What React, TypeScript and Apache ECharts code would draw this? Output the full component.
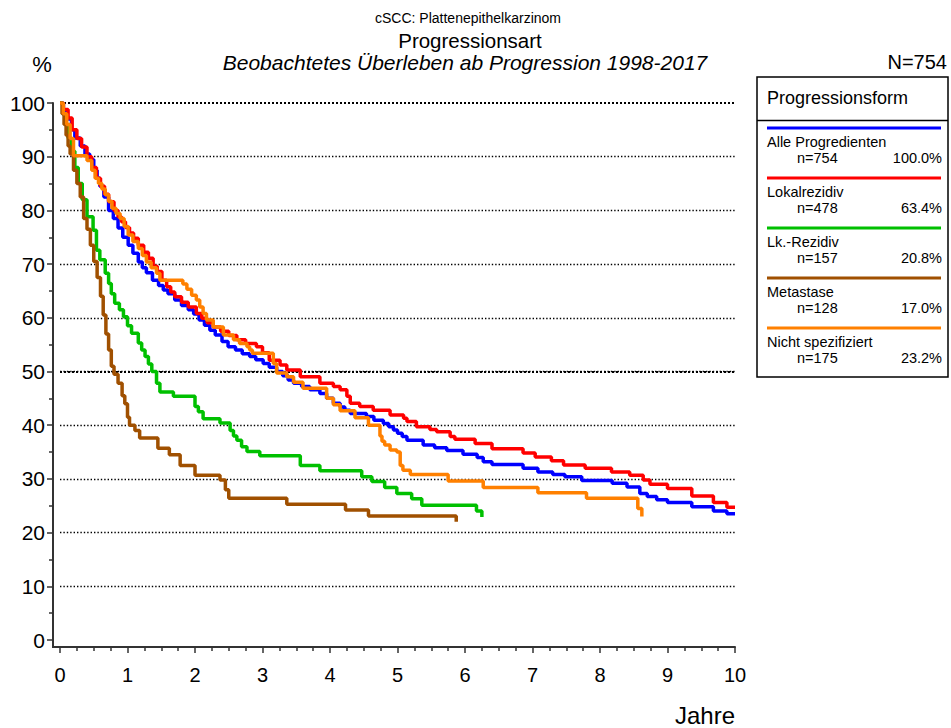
import React, { useEffect, useRef } from "react";
import * as echarts from "echarts";

// ---- Data (time in years, survival in %) ----
const alleProgredienten: [number, number][] = [
  [0, 100], [0.05, 98.5], [0.1, 97], [0.17, 95], [0.22, 93.5], [0.3, 92], [0.37, 90.5], [0.44, 89.5],
  [0.5, 87.5], [0.55, 86], [0.59, 84.5], [0.65, 82.5], [0.72, 80], [0.79, 78.5], [0.86, 76.7], [0.93, 75],
  [1.01, 73.5], [1.08, 72], [1.16, 70.4], [1.22, 69.3], [1.28, 68.4], [1.37, 67], [1.46, 66], [1.53, 65.2],
  [1.6, 64.5], [1.7, 63.3], [1.8, 62.3], [1.9, 61.5], [1.98, 60.7], [2.06, 59.6], [2.14, 58.6], [2.22, 57.7],
  [2.3, 56.8], [2.4, 55.6], [2.49, 54.6], [2.6, 54], [2.7, 53.3], [2.81, 52.8], [2.9, 52.2], [3.01, 51.5],
  [3.1, 50.8], [3.21, 50], [3.3, 49.2], [3.38, 48.4], [3.46, 47.8], [3.58, 47.2], [3.7, 46.6], [3.85, 45.9],
  [3.95, 45], [4.05, 44.1], [4.15, 43.4], [4.22, 42.8], [4.3, 42.2], [4.54, 41.6], [4.65, 40.9], [4.79, 40.3],
  [4.87, 39.7], [4.94, 39.1], [5.0, 38.5], [5.07, 37.9], [5.14, 37.2], [5.38, 36.3], [5.55, 35.8], [5.73, 35.3],
  [5.97, 34.6], [6.18, 34], [6.27, 33.2], [6.4, 32.7], [6.86, 32], [7.08, 31.3], [7.3, 30.8], [7.48, 30.4],
  [7.73, 29.7], [8.18, 29.2], [8.4, 28.5], [8.59, 27.3], [8.7, 26.7], [8.84, 26.1], [9.0, 25.6], [9.36, 24.8],
  [9.68, 24], [9.88, 23.5], [10.0, 23.5],
];

const lokalrezidiv: [number, number][] = [
  [0, 100], [0.05, 98.8], [0.12, 97.2], [0.18, 95], [0.25, 93.4], [0.32, 91.8], [0.4, 90], [0.47, 88],
  [0.54, 86], [0.6, 84.5], [0.66, 83], [0.72, 81.6], [0.8, 80], [0.86, 78.8], [0.91, 77.9], [0.97, 76.8],
  [1.03, 75.8], [1.09, 74.8], [1.16, 73.5], [1.24, 72.2], [1.31, 71.1], [1.38, 69.6], [1.44, 68.6], [1.51, 67],
  [1.58, 65.8], [1.64, 64.8], [1.7, 63.9], [1.8, 62.9], [1.9, 62], [2.02, 60.8], [2.1, 59.9], [2.18, 59.1],
  [2.27, 58.3], [2.38, 57.5], [2.5, 56.7], [2.62, 55.9], [2.75, 55.2], [2.91, 54.6], [3.0, 53.5], [3.1, 52.1],
  [3.26, 51.2], [3.36, 50.3], [3.56, 49], [3.85, 47.8], [4.05, 47.2], [4.15, 46.6], [4.25, 45.4], [4.3, 44.1],
  [4.44, 43.5], [4.64, 42.8], [4.89, 41.9], [5.09, 41.3], [5.14, 40.7], [5.28, 39.7], [5.48, 39.2], [5.58, 38.8],
  [5.78, 37.9], [5.85, 37.4], [6.15, 36.6], [6.4, 35.6], [6.86, 34.8], [7.04, 34.1], [7.28, 33.4], [7.46, 32.6],
  [7.78, 32], [8.17, 31.3], [8.44, 30.7], [8.64, 29.8], [8.74, 29], [9.0, 28.2], [9.36, 26.8], [9.68, 25.6],
  [9.88, 24.7], [10.0, 24.7],
];

const lkRezidiv: [number, number][] = [
  [0, 100], [0.04, 98], [0.08, 96], [0.12, 93.5], [0.17, 91], [0.22, 88], [0.27, 85], [0.33, 82],
  [0.4, 78.8], [0.49, 76.3], [0.54, 72.6], [0.59, 70.8], [0.67, 68.3], [0.72, 66.4], [0.76, 64.5], [0.81, 62.7],
  [0.88, 61.5], [0.94, 60.2], [1.0, 58.5], [1.06, 57.1], [1.16, 55.3], [1.21, 54], [1.26, 52.8], [1.31, 51.4],
  [1.36, 50], [1.43, 47.8], [1.48, 46.2], [1.68, 45.4], [2.0, 43.5], [2.05, 42.5], [2.12, 41.2], [2.37, 40.4],
  [2.52, 39], [2.57, 38], [2.62, 37.2], [2.69, 36], [2.77, 35.1], [2.96, 34.3], [3.56, 32.5], [3.85, 31.5],
  [4.47, 30.4], [4.62, 29.5], [4.81, 28.4], [4.99, 27.3], [5.21, 26.3], [5.36, 25.1], [6.17, 24], [6.25, 22.9],
];

const metastase: [number, number][] = [
  [0, 100], [0.03, 98], [0.06, 96], [0.09, 94], [0.12, 92], [0.15, 90.5], [0.2, 87.5], [0.25, 85],
  [0.3, 82.5], [0.35, 78.5], [0.4, 76.5], [0.45, 73.5], [0.5, 70.5], [0.55, 67.5], [0.6, 64], [0.64, 60.5],
  [0.68, 57], [0.72, 54], [0.76, 51], [0.8, 49.5], [0.86, 47.8], [0.92, 45.5], [0.96, 44], [1.0, 41.5],
  [1.03, 40], [1.11, 39], [1.18, 37.6], [1.45, 35.7], [1.62, 34.5], [1.78, 32.5], [2.0, 30.7], [2.37, 29.8],
  [2.45, 28], [2.5, 26.4], [3.36, 25.3], [4.23, 24.2], [4.57, 23.1], [5.87, 22],
];

const nichtSpezifiziert: [number, number][] = [
  [0, 100], [0.05, 98], [0.1, 96], [0.15, 93.4], [0.2, 90.2], [0.4, 89.3], [0.47, 87.5], [0.52, 86],
  [0.57, 85], [0.62, 84], [0.67, 82.9], [0.72, 81.7], [0.77, 80.4], [0.83, 79.4], [0.89, 78.5], [0.95, 77],
  [1.01, 75.4], [1.08, 74.2], [1.16, 72.9], [1.22, 71.6], [1.28, 70.4], [1.35, 69.3], [1.43, 68.3], [1.48, 67],
  [1.82, 66.3], [1.88, 65.3], [1.95, 64.2], [2.02, 63.3], [2.07, 62], [2.12, 60.8], [2.17, 59.6], [2.27, 58.3],
  [2.42, 56.8], [2.57, 55.9], [2.66, 55.2], [2.77, 54.6], [2.81, 54], [2.85, 53.4], [3.16, 51.5], [3.21, 49.7],
  [3.36, 49], [3.46, 48], [3.6, 46.9], [3.95, 45], [4.05, 43.8], [4.15, 42.7], [4.37, 41.4], [4.57, 40],
  [4.74, 38], [4.77, 37], [4.81, 36.3], [4.89, 35.4], [4.99, 35], [5.04, 32.5], [5.08, 31.6], [5.19, 30.8],
  [5.75, 29.6], [6.27, 28.4], [7.08, 27.4], [7.8, 26.4], [8.56, 24.5], [8.62, 23],
];

const seriesNames = ["Alle Progredienten", "Lokalrezidiv", "Lk.-Rezidiv", "Metastase", "Nicht spezifiziert"];
const seriesCounts = ["n=754", "n=478", "n=157", "n=128", "n=175"];
const seriesShares = ["100.0%", "63.4%", "20.8%", "17.0%", "23.2%"];
const seriesColors = ["#0000ff", "#ff0000", "#00c000", "#a05000", "#ff8000"];
const seriesData = [alleProgredienten, lokalrezidiv, lkRezidiv, metastase, nichtSpezifiziert];

const titleLines = ["cSCC: Plattenepithelkarzinom", "Progressionsart", "Beobachtetes Überleben ab Progression 1998-2017"];
const totalLabel = "N=754";
const legendTitle = "Progressionsform";

const FONT = '"Liberation Sans", Arial, sans-serif';

export default function App() {
  const ref = useRef<HTMLDivElement>(null);

  useEffect(() => {
    if (!ref.current) return;
    const chart = echarts.init(ref.current, undefined, { renderer: "svg" });

    const txt = (x: number, y: number, text: string, size: number, align = "left", extra: any = {}) => ({
      type: "text",
      x,
      y,
      silent: true,
      style: {
        text,
        fill: "#000",
        font: `${extra.italic ? "italic " : ""}${size}px ${FONT}`,
        textAlign: align,
        align,
        textVerticalAlign: "middle",
        verticalAlign: "middle",
      },
    });

    const graphics: any[] = [
      txt(468, 18, titleLines[0], 14, "center"),
      txt(470, 40, titleLines[1], 20.5, "center"),
      txt(465, 62, titleLines[2], 21, "center", { italic: true }),
      txt(947, 62, totalLabel, 20, "right"),
      txt(42, 64, "%", 22, "center"),
      txt(735, 715, "Jahre", 24, "right"),
      {
        type: "rect",
        shape: { x: 757, y: 77, width: 191, height: 300 },
        style: { fill: "#fff", stroke: "#000", lineWidth: 1.5 },
        silent: true,
      },
      {
        type: "line",
        shape: { x1: 757, y1: 120.5, x2: 948, y2: 120.5 },
        style: { stroke: "#000", lineWidth: 1.5 },
        silent: true,
      },
      txt(767, 98, legendTitle, 18, "left"),
      // axis corner joins
      { type: "line", shape: { x1: 53, y1: 640, x2: 53, y2: 648 }, style: { stroke: "#333", lineWidth: 2 }, silent: true },
      { type: "line", shape: { x1: 52, y1: 647, x2: 60, y2: 647 }, style: { stroke: "#333", lineWidth: 2 }, silent: true },
    ];

    seriesNames.forEach((name, i) => {
      const y0 = 128 + i * 50;
      graphics.push({
        type: "line",
        shape: { x1: 767, y1: y0, x2: 941, y2: y0 },
        style: { stroke: seriesColors[i], lineWidth: 3 },
        silent: true,
      });
      graphics.push(txt(767, y0 + 13.5, name, 14.5, "left"));
      graphics.push(txt(797, y0 + 30, seriesCounts[i], 14.5, "left"));
      graphics.push(txt(942, y0 + 30, seriesShares[i], 14.5, "right"));
    });

    const option: any = {
      animation: false,
      grid: { left: 60, right: 216, top: 103, bottom: 88 },
      xAxis: {
        type: "value",
        min: 0,
        max: 10,
        interval: 1,
        offset: 7,
        axisLine: { show: true, onZero: false, lineStyle: { color: "#333", width: 2 } },
        axisTick: { show: true, length: 6, lineStyle: { color: "#333", width: 1.5 } },
        minorTick: { show: true, splitNumber: 4, length: 4, lineStyle: { color: "#333", width: 1.5 } },
        axisLabel: { fontSize: 20, color: "#000", margin: 18, fontFamily: FONT },
        splitLine: { show: false },
      },
      yAxis: {
        type: "value",
        min: 0,
        max: 100,
        interval: 10,
        offset: 7,
        axisLine: { show: true, onZero: false, lineStyle: { color: "#333", width: 2 } },
        axisTick: { show: true, length: 6, lineStyle: { color: "#333", width: 1.5 } },
        minorTick: { show: true, splitNumber: 2, length: 4, lineStyle: { color: "#333", width: 1.5 } },
        axisLabel: { fontSize: 21, color: "#000", margin: 8, fontFamily: FONT },
        splitLine: {
          show: true,
          showMinLine: false,
          showMaxLine: false,
          lineStyle: { color: "#000", type: [1.4, 2], width: 1.4 },
        },
      },
      graphic: graphics,
      series: seriesData.map((d, i) => ({
        name: seriesNames[i],
        type: "line",
        step: "end",
        data: d,
        symbol: "none",
        showSymbol: false,
        silent: true,
        lineStyle: { color: seriesColors[i], width: 3.5 },
        itemStyle: { color: seriesColors[i] },
        z: 3 + i,
        ...(i === 0
          ? {
              markLine: {
                silent: true,
                symbol: ["none", "none"],
                label: { show: false },
                lineStyle: { color: "#000", type: [2, 2], width: 2.2 },
                data: [{ yAxis: 50 }, { yAxis: 100 }],
                z: 1,
              },
            }
          : {}),
      })),
    };

    chart.setOption(option);
    return () => chart.dispose();
  }, []);

  return (
    <div
      ref={ref}
      style={{ position: "fixed", left: 0, top: 0, width: 951, height: 728, background: "#fff" }}
    />
  );
}
